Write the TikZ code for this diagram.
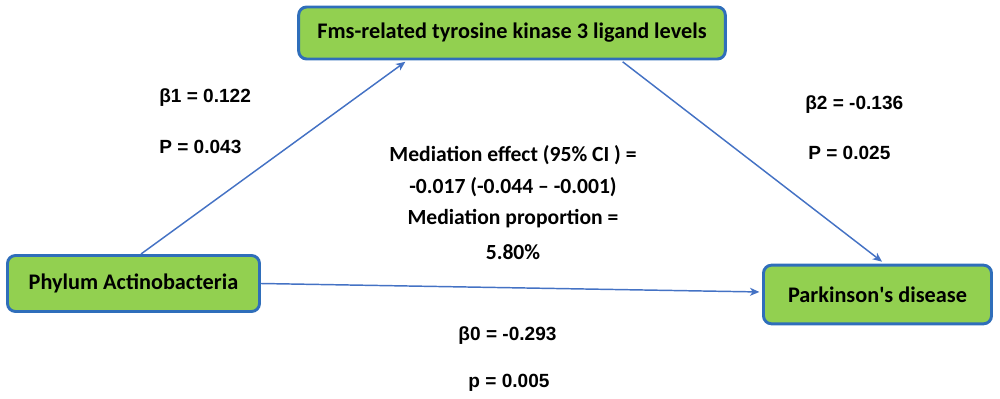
\documentclass[tikz,border=0pt]{standalone}
\usepackage{fontspec}
\setmainfont{Carlito}
\newfontfamily\arialfont{Liberation Sans}
\usetikzlibrary{arrows.meta}
\definecolor{boxgreen}{HTML}{92D050}
\definecolor{boxblue}{HTML}{2F6EBA}
\definecolor{arrowblue}{HTML}{4472C4}
\tikzset{
  varbox/.style={draw=boxblue, line width=2.2pt, fill=boxgreen, rounded corners=6pt, font=\bfseries\fontsize{16.7}{19}\selectfont, inner sep=0pt},
  link/.style={draw=arrowblue, line width=1.1pt, -{Stealth[length=7pt,width=6pt,inset=2pt]}},
  coef/.style={font=\arialfont\bfseries\fontsize{14.3}{16}\selectfont, inner sep=0pt},
  medtext/.style={font=\bfseries\fontsize{16.2}{18}\selectfont, inner sep=0pt}
}
\begin{document}
\begin{tikzpicture}[x=0.75pt,y=-0.75pt]
\useasboundingbox (0,0) rectangle (1000,399);
\node[varbox, minimum width=320pt, minimum height=39pt] (flt) at (512,33) {Fms-related tyrosine kinase 3 ligand levels};
\node[varbox, minimum width=189pt, minimum height=42pt] (phy) at (133.5,283.5) {Phylum Actinobacteria};
\node[varbox, minimum width=171pt, minimum height=44pt] (pd) at (877.5,294.5) {Parkinson\textquotesingle s disease};
\draw[link] ([xshift=5.6pt]phy.north) -- ([xshift=-80pt,yshift=-1pt]flt.south);
\draw[link] ([xshift=83pt,yshift=-1pt]flt.south) -- ([xshift=3.4pt,yshift=1.5pt]pd.north);
\draw[link] (phy.east) -- ([xshift=-2pt,yshift=1.9pt]pd.west);
\node[coef, anchor=west] (b1) at (159,98) {β1 = 0.122};
\node[coef, anchor=west] (p1) at (159,147) {P = 0.043};
\node[coef, anchor=west] (b2) at (805,105) {β2 = -0.136};
\node[coef, anchor=west] (p2) at (808,153) {P = 0.025};
\node[coef] (b0) at (507.5,336) {β0 = -0.293};
\node[coef] (p0) at (509,383) {p = 0.005};
\node[medtext] (m1) at (513,155) {Mediation effect (95\% CI ) =};
\node[medtext] (m2) at (513,187) {-0.017 (-0.044 – -0.001)};
\node[medtext] (m3) at (513,219) {Mediation proportion =};
\node[medtext] (m4) at (513,252) {5.80\%};
\end{tikzpicture}
\end{document}
